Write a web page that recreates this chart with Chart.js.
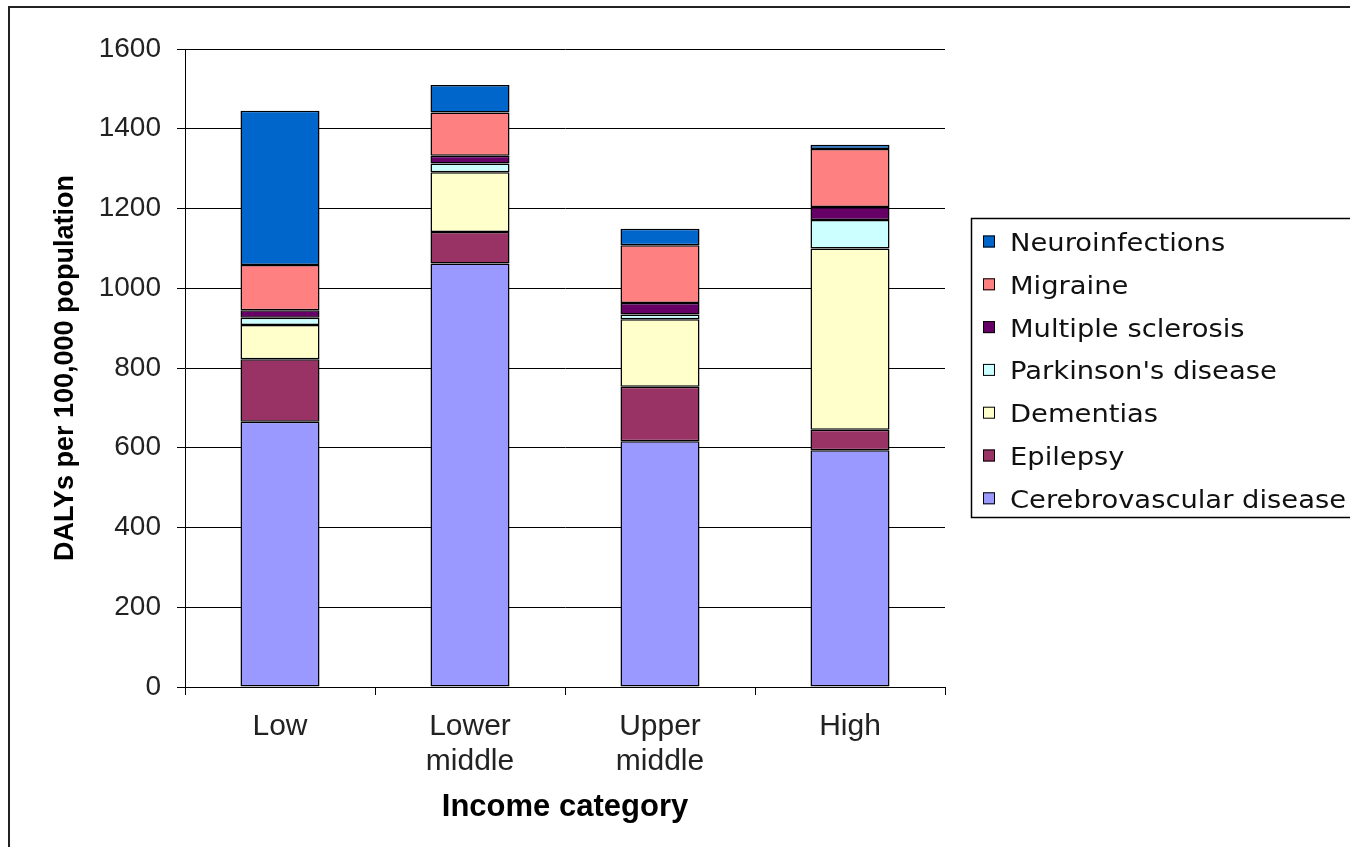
<!DOCTYPE html>
<html>
<head>
<meta charset="utf-8">
<script src="https://cdn.jsdelivr.net/npm/chart.js@4"></script>
<style>
  html, body { margin: 0; padding: 0; background: #fff; }
  #wrap { width: 1350px; height: 847px; position: relative; }
</style>
</head>
<body>
<div id="wrap"><canvas id="chart"></canvas></div>
<script>
const categories = ["Low", ["Lower", "middle"], ["Upper", "middle"], "High"];
const yTicks = [0, 200, 400, 600, 800, 1000, 1200, 1400, 1600];

const cerebrovascular = [665, 1062, 616, 594];
const epilepsy = [157, 79, 137, 51];
const dementias = [86, 150, 169, 455];
const parkinsons = [18, 22, 12, 71];
const multipleSclerosis = [19, 19, 29, 33];
const migraine = [113, 109, 145, 145];
const neuroinfections = [387, 69, 41, 11];

// frame around the whole picture
const frame = {
  id: "frame",
  beforeDraw(chart) {
    const ctx = chart.ctx;
    ctx.save();
    ctx.fillStyle = "#fff";
    ctx.fillRect(0, 0, chart.width, chart.height);
    ctx.lineWidth = 2;
    ctx.strokeStyle = "#222";
    ctx.strokeRect(9, 7, 1500, 1000);
    ctx.restore();
  },
};

// excel style legend box, top series first
const legendBox = {
  id: "legendBox",
  afterDraw(chart) {
    const ctx = chart.ctx;
    ctx.save();
    ctx.lineWidth = 1.5;
    ctx.strokeStyle = "#000";
    ctx.strokeRect(971.5, 218.5, 500, 299);
    ctx.font = '24px "DejaVu Sans"';
    ctx.textBaseline = "alphabetic";
    const sets = chart.data.datasets.slice().reverse();
    sets.forEach((ds, i) => {
      const y = 241.5 + i * 42.8;
      ctx.fillStyle = ds.backgroundColor;
      ctx.fillRect(983, y - 6, 12, 12);
      ctx.lineWidth = 1;
      ctx.strokeStyle = "#000";
      ctx.strokeRect(983.5, y - 5.5, 11, 11);
      ctx.fillStyle = "#111";
      // text in the reference is a little wider than the font
      ctx.save();
      ctx.translate(1010, y + 9.5);
      ctx.scale(1.14, 1);
      ctx.fillText(ds.label, 0, 0);
      ctx.restore();
    });
    ctx.restore();
  },
};

function series(label, data, color) {
  return {
    label: label,
    data: data,
    backgroundColor: color,
    borderColor: "#000",
    borderWidth: 1.5,
    borderSkipped: false,
  };
}

const ctx = document.getElementById("chart").getContext("2d");
new Chart(ctx, {
  type: "bar",
  data: {
    labels: categories,
    datasets: [
      series("Cerebrovascular disease", cerebrovascular, "#9999FF"),
      series("Epilepsy", epilepsy, "#993366"),
      series("Dementias", dementias, "#FFFFCC"),
      series("Parkinson's disease", parkinsons, "#CCFFFF"),
      series("Multiple sclerosis", multipleSclerosis, "#660066"),
      series("Migraine", migraine, "#FF8080"),
      series("Neuroinfections", neuroinfections, "#0066CC"),
    ],
  },
  options: {
    responsive: true,
    maintainAspectRatio: false,
    animation: false,
    layout: {
      padding: { left: 10, right: 405, top: 49, bottom: 0 },
    },
    datasets: {
      bar: { barPercentage: 0.416, categoryPercentage: 1.0 },
    },
    scales: {
      x: {
        stacked: true,
        afterFit: (scale) => { scale.height = 160; },
        grid: {
          drawOnChartArea: false,
          drawTicks: true,
          tickLength: 8,
          color: "#000",
        },
        border: { color: "#000", width: 1 },
        ticks: {
          color: "#222",
          padding: 14,
          maxRotation: 0,
          font: { family: '"Liberation Sans", Arial', size: 30, lineHeight: 1.17 },
        },
        title: {
          display: true,
          text: "Income category",
          color: "#000",
          padding: { top: 4, bottom: 21 },
          font: { family: '"Liberation Sans", Arial', size: 31, weight: "bold" },
        },
      },
      y: {
        stacked: true,
        min: 0,
        max: 1600,
        afterFit: (scale) => { scale.width = 175; },
        afterBuildTicks: (scale) => {
          scale.ticks = yTicks.map((v) => ({ value: v }));
        },
        grid: {
          color: "#000",
          lineWidth: 1,
          tickLength: 8,
        },
        border: { color: "#000", width: 1 },
        ticks: {
          color: "#222",
          padding: 16,
          callback: (value) => String(value),
          font: { family: '"Liberation Sans", Arial', size: 28 },
        },
        title: {
          display: true,
          text: "DALYs per 100,000 population",
          color: "#000",
          padding: { top: 39, bottom: 0 },
          font: { family: '"Liberation Sans", Arial', size: 27, weight: "bold" },
        },
      },
    },
    plugins: {
      legend: { display: false },
      tooltip: { enabled: false },
    },
  },
  plugins: [frame, legendBox],
});
</script>
</body>
</html>
